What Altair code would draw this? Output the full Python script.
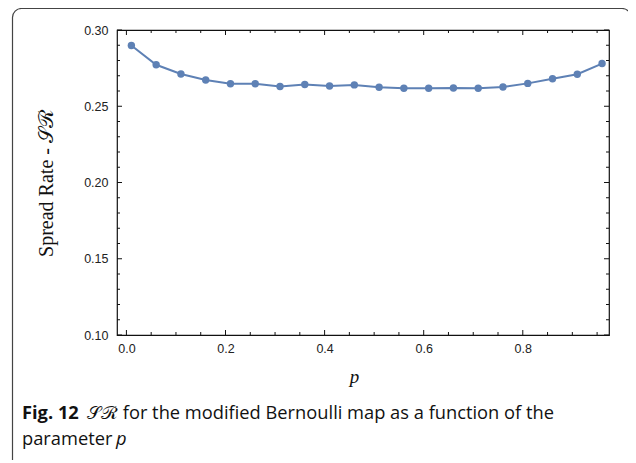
import altair as alt
import pandas as pd

# ---- data ----
p_values = [0.01, 0.06, 0.11, 0.16, 0.21, 0.26, 0.31, 0.36, 0.41, 0.46,
            0.51, 0.56, 0.61, 0.66, 0.71, 0.76, 0.81, 0.86, 0.91, 0.96]
sr_values = [0.2898, 0.2772, 0.2712, 0.2672, 0.2648, 0.2648, 0.2630, 0.2643, 0.2633, 0.2640,
             0.2625, 0.2618, 0.2618, 0.2620, 0.2618, 0.2626, 0.2650, 0.2680, 0.2710, 0.2780]

x_major = [0.0, 0.2, 0.4, 0.6, 0.8]
x_minor = [0.05, 0.1, 0.15, 0.25, 0.3, 0.35, 0.45, 0.5, 0.55, 0.65, 0.7, 0.75, 0.85, 0.9, 0.95]
y_major = [0.10, 0.15, 0.20, 0.25, 0.30]
y_minor = [0.11, 0.12, 0.13, 0.14, 0.16, 0.17, 0.18, 0.19, 0.21, 0.22, 0.23, 0.24,
           0.26, 0.27, 0.28, 0.29]

caption_bold = "Fig. 12"
caption_line1 = "\U0001D4AE\u211B for the modified Bernoulli map as a function of the"
caption_line2 = "parameter "
caption_p = "p"
y_title = "Spread Rate - \U0001D4AE\u211B"
x_title = "p"

W, H = 492, 305
X_DOM = [-0.019, 0.974]
Y_DOM = [0.10, 0.30]
COLOR = "#5E81B5"

df = pd.DataFrame({"p": p_values, "sr": sr_values})
xs = alt.Scale(domain=X_DOM, nice=False, zero=False)
ys = alt.Scale(domain=Y_DOM, nice=False, zero=False)

base = alt.Chart(df)

line = base.mark_line(color=COLOR, strokeWidth=2).encode(
    x=alt.X("p:Q", scale=xs,
            axis=alt.Axis(values=x_major, format=".1f", ticks=False, domain=False, grid=False,
                          labelFont="Liberation Sans", labelFontSize=12.5, labelColor="#222",
                          labelPadding=7, title=x_title, titleFont="Liberation Serif",
                          titleFontSize=19, titleFontStyle="italic", titleFontWeight="normal",
                          titleColor="#111", titlePadding=13, titleX=237)),
    y=alt.Y("sr:Q", scale=ys,
            axis=alt.Axis(values=y_major, format=".2f", ticks=False, domain=False, grid=False,
                          labelFont="Liberation Sans", labelFontSize=12.5, labelColor="#222",
                          labelPadding=9, title=y_title, titleFont="Liberation Serif",
                          titleFontSize=20, titleFontWeight="normal", titleColor="#111",
                          titlePadding=27)),
)
pts = base.mark_circle(color=COLOR, size=55, opacity=1).encode(
    x=alt.X("p:Q", scale=xs), y=alt.Y("sr:Q", scale=ys))

def xticks(vals, length):
    d = alt.Data(values=[{"v": v} for v in vals])
    bot = alt.Chart(d).mark_rule(color="#111", strokeWidth=1).encode(
        x=alt.X("v:Q", scale=xs), y=alt.value(H), y2=alt.value(H - length))
    top = alt.Chart(d).mark_rule(color="#111", strokeWidth=1).encode(
        x=alt.X("v:Q", scale=xs), y=alt.value(0), y2=alt.value(length))
    return [bot, top]

def yticks(vals, length):
    d = alt.Data(values=[{"v": v} for v in vals])
    left = alt.Chart(d).mark_rule(color="#111", strokeWidth=1).encode(
        y=alt.Y("v:Q", scale=ys), x=alt.value(0), x2=alt.value(length))
    right = alt.Chart(d).mark_rule(color="#111", strokeWidth=1).encode(
        y=alt.Y("v:Q", scale=ys), x=alt.value(W), x2=alt.value(W - length))
    return [left, right]

one = alt.Data(values=[{"a": 1}])
border = alt.Chart(one).mark_rect(fill=None, stroke="#444", strokeWidth=1.2, cornerRadius=9).encode(
    x=alt.value(-104.5), x2=alt.value(514), y=alt.value(-21.5), y2=alt.value(460))

cap_font = "Open Sans"
FS = 18.3
cap1 = alt.Chart(one).mark_text(align="left", baseline="alphabetic", font=cap_font, fontSize=FS,
                                fontWeight="bold", color="#111").encode(
    x=alt.value(-95), y=alt.value(389), text=alt.value(caption_bold))
cap2 = alt.Chart(one).mark_text(align="left", baseline="alphabetic", font=cap_font, fontSize=FS,
                                color="#111").encode(
    x=alt.value(-30), y=alt.value(389), text=alt.value(caption_line1))
cap3 = alt.Chart(one).mark_text(align="left", baseline="alphabetic", font=cap_font, fontSize=FS,
                                color="#111").encode(
    x=alt.value(-95), y=alt.value(415), text=alt.value(caption_line2))
cap4 = alt.Chart(one).mark_text(align="left", baseline="alphabetic", font=cap_font, fontSize=FS,
                                fontStyle="italic", color="#111").encode(
    x=alt.value(-1), y=alt.value(415), text=alt.value(caption_p))

layers = [border, line, pts] + xticks(x_major, 5) + xticks(x_minor, 3) \
    + yticks(y_major, 5) + yticks(y_minor, 3) + [cap1, cap2, cap3, cap4]

chart = alt.layer(*layers).properties(
    width=W, height=H,
    autosize=alt.AutoSizeParams(type="none"),
    padding={"left": 109, "top": 22, "right": 19, "bottom": 125},
).configure_view(stroke="#111", strokeWidth=1.2)

chart.save("out.html", embed_options={"renderer": "svg", "actions": False})
